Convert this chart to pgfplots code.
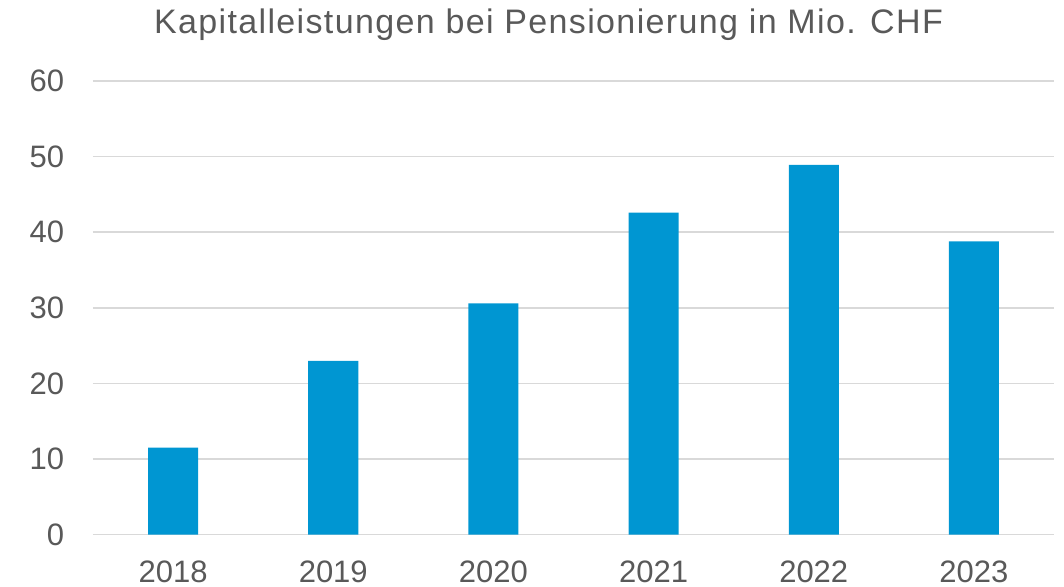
\documentclass[border=0pt]{standalone}
\usepackage{fontspec}
\setmainfont{Liberation Sans}
\newfontfamily\titlefont[LetterSpace=4]{Liberation Sans}
\usepackage{pgfplots}
\pgfplotsset{compat=1.18}
\definecolor{barblue}{HTML}{0096D2}
\definecolor{txtgray}{HTML}{595959}
\definecolor{gridgray}{HTML}{D9D9D9}
\begin{document}
\begin{tikzpicture}
\path[use as bounding box] (-46.5pt,-26.15pt) rectangle (485.5pt,267.35pt);
\begin{axis}[
  scale only axis,
  width=480.5pt, height=226.85pt,
  xmin=-0.5, xmax=5.5,
  ymin=0, ymax=60,
  ytick={0,10,...,60},
  xtick={0,1,2,3,4,5},
  xticklabels={2018,2019,2020,2021,2022,2023},
  axis line style={draw=none},
  major tick length=0pt,
  ymajorgrids,
  grid style={gridgray, line width=0.75pt},
  /pgf/number format/assume math mode=true,
  tick label style={font=\fontsize{15.5pt}{18pt}\selectfont, text=txtgray, inner sep=0pt},
  yticklabel style={anchor=east, xshift=-14.3pt},
  xticklabel style={anchor=north, yshift=-13pt},
  clip=false,
]
\addplot[ybar, bar width=25pt, fill=barblue, draw=none] coordinates {
  (0,11.5) (1,23.0) (2,30.6) (3,42.6) (4,48.9) (5,38.8)
};
\end{axis}
\node[anchor=base, text=txtgray, font=\titlefont\fontsize{17pt}{20pt}\selectfont, inner sep=0pt] at (227.75pt,250.7pt) {Kapitalleistungen bei Pensionierung in Mio. CHF};
\end{tikzpicture}
\end{document}
